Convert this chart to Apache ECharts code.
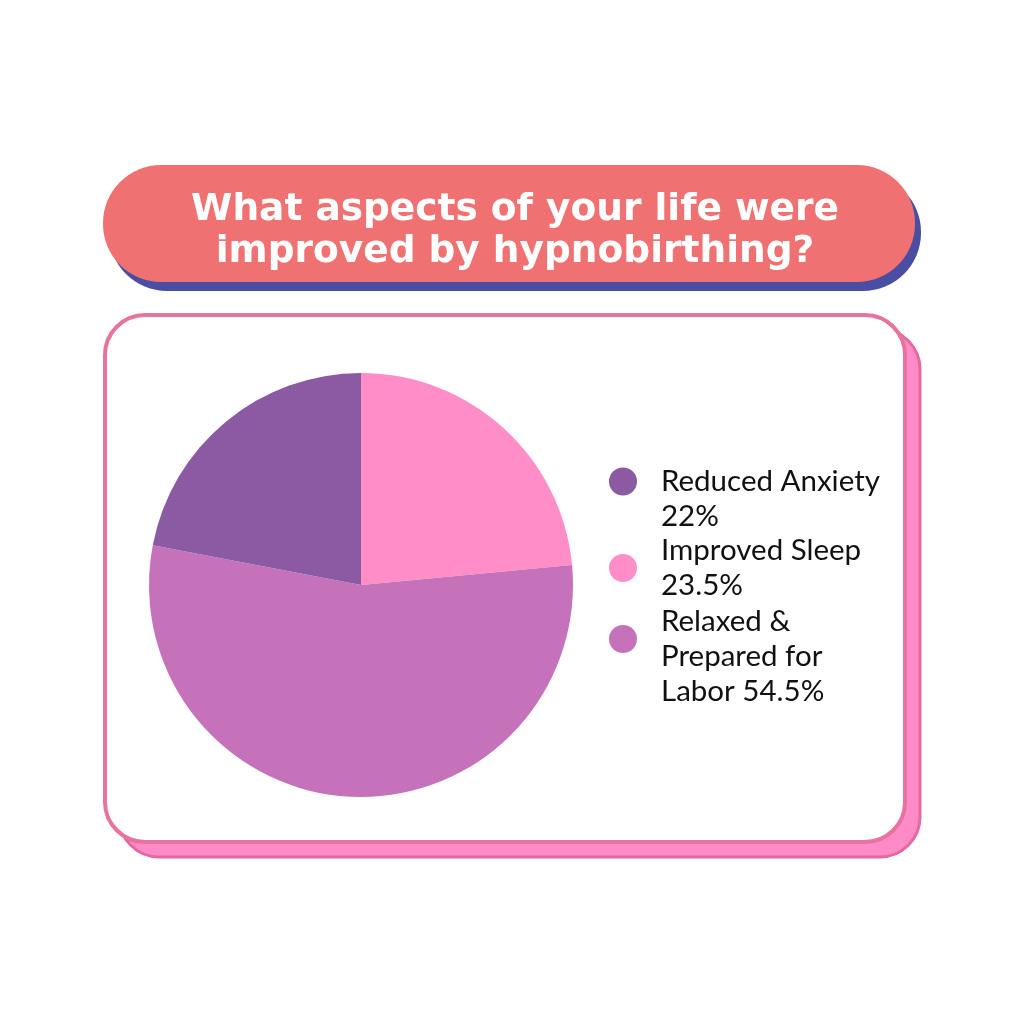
<!DOCTYPE html>
<html><head><meta charset="utf-8">
<script src="https://cdn.jsdelivr.net/npm/echarts@6/dist/echarts.min.js"></script>
<style>html,body{margin:0;padding:0;background:#fff}#c{width:1024px;height:1024px}</style>
</head><body><div id="c"></div>
<script>
const titleLines = ['What aspects of your life were', 'improved by hypnobirthing?'];
const categories = ['Improved Sleep', 'Relaxed & Prepared for Labor', 'Reduced Anxiety'];
const values = [23.5, 54.5, 22];
const colors = ['#FF8DC7', '#C672BA', '#8B5AA3'];
const legendOrder = ['Reduced Anxiety', 'Improved Sleep', 'Relaxed & Prepared for Labor'];
const legendText = {
  'Reduced Anxiety': '\u00a0\nReduced Anxiety\n22%',
  'Improved Sleep': 'Improved Sleep\n23.5%',
  'Relaxed & Prepared for Labor': '\u00a0\nRelaxed &\nPrepared for\nLabor 54.5%'
};

const chart = echarts.init(document.getElementById('c'));
const legendBase = {
  orient: 'vertical', left: 609, icon: 'circle', itemWidth: 28, itemHeight: 28, itemGap: 0,
  padding: 0, selectedMode: false,
  formatter: n => legendText[n],
  textStyle: { fontFamily: 'Lato', fontSize: 29.5, color: '#111', lineHeight: 35, padding: [0, 0, 0, 19] }
};
chart.setOption({
  animation: false,
  graphic: [
    { type: 'rect', z: 0, shape: { x: 109, y: 174, width: 812, height: 117, r: 58 }, style: { fill: '#4A4EA2' } },
    { type: 'rect', z: 1, shape: { x: 103, y: 165, width: 812, height: 117, r: 58 }, style: { fill: '#F07171' } },
    { type: 'rect', z: 0, shape: { x: 119, y: 329, width: 801, height: 528, r: 40 }, style: { fill: '#FF8AC8', stroke: '#E46A9E', lineWidth: 3 } },
    { type: 'rect', z: 1, shape: { x: 105, y: 315, width: 800, height: 527, r: 40 }, style: { fill: '#FFFFFF', stroke: '#E8739F', lineWidth: 4 } }
  ],
  title: {
    text: titleLines.join('\n'), left: 510, top: 184, textAlign: 'center', z: 5,
    textStyle: { color: '#fff', fontFamily: 'DejaVu Sans', fontWeight: 'bold', fontSize: 37.5, lineHeight: 42 }
  },
  legend: [
    Object.assign({}, legendBase, { data: [legendOrder[0]], top: 429 }),
    Object.assign({}, legendBase, { data: [legendOrder[1]], top: 533 }),
    Object.assign({}, legendBase, { data: [legendOrder[2]], top: 569 })
  ],
  series: [{
    type: 'pie', center: [361, 585], radius: 212, startAngle: 90, clockwise: true,
    label: { show: false }, labelLine: { show: false }, z: 5,
    itemStyle: { borderWidth: 0 },
    emphasis: { disabled: true },
    data: categories.map((c, i) => ({ name: c, value: values[i], itemStyle: { color: colors[i] } }))
  }]
});
</script></body></html>
